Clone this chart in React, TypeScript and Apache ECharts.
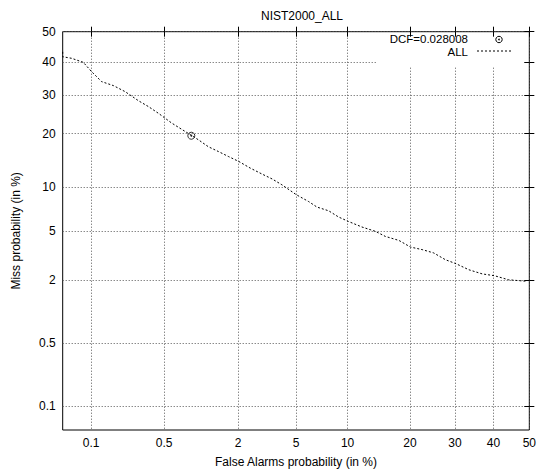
import React, { useEffect, useRef } from "react";
import * as echarts from "echarts";

// ---- data (percent) ----
const tickValues = [0.1, 0.5, 2, 5, 10, 20, 30, 40, 50];
const axisMinPct = 0.05;
const axisMaxPct = 50;
const faPct = [0.05, 0.05, 0.0625, 0.083, 0.101, 0.128, 0.168, 0.219, 0.293, 0.362, 0.446, 0.585, 0.76, 0.98, 1.18, 1.42, 1.7, 2.02, 2.45, 2.96, 3.48, 4.05, 5.02, 5.98, 6.71, 7.85, 8.93, 10.1, 11.9, 13.9, 15.5, 17.9, 20.1, 22.5, 25.0, 27.7, 30.3, 33.5, 37.0, 40.3, 44.2, 49.4];
const missPct = [43.4, 41.8, 41.3, 40.0, 37.1, 34.0, 32.8, 31.0, 28.4, 26.8, 25.0, 22.5, 20.5, 18.6, 17.1, 16.1, 15.1, 14.2, 13.0, 12.0, 11.2, 10.3, 8.9, 8.03, 7.37, 6.95, 6.29, 5.85, 5.33, 4.95, 4.54, 4.23, 3.76, 3.59, 3.38, 2.98, 2.76, 2.46, 2.27, 2.19, 2.02, 1.96];
const dcfPoint = [0.857, 19.5];
const titleText = "NIST2000_ALL";
const xName = "False Alarms probability (in %)";
const yName = "Miss probability (in %)";
const legendLabels = ["DCF=0.028008", "ALL"];

const FONT = "'Liberation Sans', Arial, Helvetica, sans-serif";

// inverse of the standard normal CDF (Acklam)
function probit(p: number): number {
  const a = [-3.969683028665376e1, 2.209460984245205e2, -2.759285104469687e2, 1.38357751867269e2, -3.066479806614716e1, 2.506628277459239];
  const b = [-5.447609879822406e1, 1.615858368580409e2, -1.556989798598866e2, 6.680131188771972e1, -1.328068155288572e1];
  const c = [-7.784894002430293e-3, -3.223964580411365e-1, -2.400758277161838, -2.549732539343734, 4.374664141464968, 2.938163982698783];
  const d = [7.784695709041462e-3, 3.224671290700398e-1, 2.445134137142996, 3.754408661907416];
  const plow = 0.02425;
  if (p < plow) {
    const q = Math.sqrt(-2 * Math.log(p));
    return (((((c[0] * q + c[1]) * q + c[2]) * q + c[3]) * q + c[4]) * q + c[5]) / ((((d[0] * q + d[1]) * q + d[2]) * q + d[3]) * q + 1);
  }
  if (p <= 1 - plow) {
    const q = p - 0.5;
    const r = q * q;
    return ((((((a[0] * r + a[1]) * r + a[2]) * r + a[3]) * r + a[4]) * r + a[5]) * q) / (((((b[0] * r + b[1]) * r + b[2]) * r + b[3]) * r + b[4]) * r + 1);
  }
  const q = Math.sqrt(-2 * Math.log(1 - p));
  return -(((((c[0] * q + c[1]) * q + c[2]) * q + c[3]) * q + c[4]) * q + c[5]) / ((((d[0] * q + d[1]) * q + d[2]) * q + d[3]) * q + 1);
}

const pr = (pct: number) => probit(pct / 100);

export default function App() {
  const ref = useRef<HTMLDivElement>(null);
  useEffect(() => {
    if (!ref.current) return;
    const chart = echarts.init(ref.current, null, { renderer: "svg" });
    const tickPos = tickValues.map(pr);
    const fmt = (v: number) => {
      for (let i = 0; i < tickValues.length; i++) {
        if (Math.abs(tickPos[i] - v) < 1e-6) return String(tickValues[i]);
      }
      return "";
    };
    const minV = pr(axisMinPct);
    const maxV = pr(axisMaxPct);
    const tickStyle = { show: true, inside: true, length: 5, customValues: tickPos, lineStyle: { color: "#000", width: 1 } };
    const labelStyle = { customValues: tickPos, formatter: fmt, color: "#000", fontSize: 12, fontFamily: FONT, margin: 7 };
    const splitStyle = { show: true, lineStyle: { color: "#555", width: 1, type: [1, 2] } };
    const curve = faPct.map((f, i) => [pr(f), pr(missPct[i])]);

    chart.setOption({
      animation: false,
      backgroundColor: "#fff",
      title: {
        text: titleText,
        left: 297,
        textAlign: "center",
        top: 5,
        textStyle: { fontSize: 12, fontWeight: "normal", color: "#000", fontFamily: FONT },
      },
      grid: { left: 62.7, right: 8.3, top: 31.7, bottom: 41.3, show: true, borderColor: "#000", borderWidth: 1, backgroundColor: "transparent" },
      xAxis: [
        {
          type: "value", position: "bottom", min: minV, max: maxV, z: 0,
          axisLine: { show: false }, axisTick: tickStyle, axisLabel: labelStyle, splitLine: splitStyle,
          name: xName, nameLocation: "middle", nameGap: 26,
          nameTextStyle: { fontSize: 12, color: "#000", fontFamily: FONT },
        },
        {
          type: "value", position: "top", min: minV, max: maxV, z: 3,
          axisLine: { show: false }, axisTick: tickStyle, axisLabel: { show: false }, splitLine: { show: false },
        },
      ],
      yAxis: [
        {
          type: "value", position: "left", min: minV, max: maxV, z: 0,
          axisLine: { show: false }, axisTick: tickStyle, axisLabel: labelStyle, splitLine: splitStyle,
          name: yName, nameLocation: "middle", nameGap: 41,
          nameTextStyle: { fontSize: 12, color: "#000", fontFamily: FONT },
        },
        {
          type: "value", position: "right", min: minV, max: maxV, z: 3,
          axisLine: { show: false }, axisTick: tickStyle, axisLabel: { show: false }, splitLine: { show: false },
        },
      ],
      graphic: [
        { type: "rect", z: 1, shape: { x: 376, y: 33, width: 147, height: 34 }, style: { fill: "#fff" } },
        { type: "text", z: 5, x: 468, y: 39, style: { text: legendLabels[0], align: "right", verticalAlign: "middle", fontSize: 11.5, fontFamily: FONT, fill: "#000" } },
        { type: "text", z: 5, x: 468, y: 51.5, style: { text: legendLabels[1], align: "right", verticalAlign: "middle", fontSize: 11.5, fontFamily: FONT, fill: "#000" } },
        { type: "circle", z: 5, shape: { cx: 499, cy: 39.5, r: 3.2 }, style: { fill: "none", stroke: "#000", lineWidth: 1 } },
        { type: "circle", z: 5, shape: { cx: 499, cy: 39.5, r: 0.8 }, style: { fill: "#000" } },
        { type: "line", z: 5, shape: { x1: 477, y1: 51, x2: 512, y2: 51 }, style: { stroke: "#000", lineWidth: 1, lineDash: [2, 2] } },
      ],
      series: [
        {
          name: legendLabels[1], type: "line", data: curve, showSymbol: false, symbol: "none", z: 2,
          lineStyle: { color: "#000", width: 1, type: [2, 2] }, clip: true,
        },
        {
          name: legendLabels[0], type: "scatter", data: [[pr(dcfPoint[0]), pr(dcfPoint[1])]], symbol: "circle", symbolSize: 7, z: 3,
          itemStyle: { color: "rgba(0,0,0,0)", borderColor: "#000", borderWidth: 1 },
        },
        {
          name: "dcfDot", type: "scatter", data: [[pr(dcfPoint[0]), pr(dcfPoint[1])]], symbol: "circle", symbolSize: 2, z: 3,
          itemStyle: { color: "#000" },
        },
      ],
    });
    return () => chart.dispose();
  }, []);
  return <div ref={ref} style={{ position: "fixed", left: 0, top: 0, width: 539, height: 473 }} />;
}
